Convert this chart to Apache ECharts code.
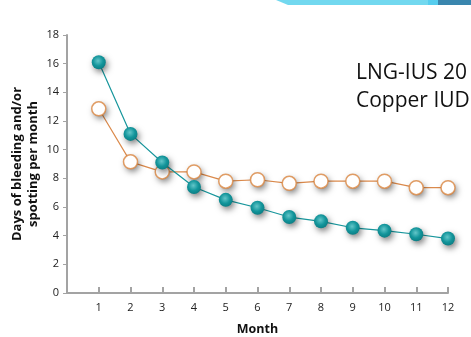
<!DOCTYPE html>
<html>
<head>
<meta charset="utf-8">
<script src="https://cdn.jsdelivr.net/npm/echarts@6/dist/echarts.min.js"></script>
<style>
html,body{margin:0;padding:0;background:#fff;}
#c{width:471px;height:337px;}
</style>
</head>
<body>
<div id="c"></div>
<script>
var months = [1,2,3,4,5,6,7,8,9,10,11,12];
var lngIus20 = [16.1,11.1,9.1,7.4,6.5,5.95,5.3,5.0,4.55,4.35,4.1,3.8];
var copperIud = [12.85,9.15,8.45,8.45,7.8,7.9,7.65,7.8,7.8,7.8,7.35,7.35];
var yTicks = [0,2,4,6,8,10,12,14,16,18];
var legendNames = ['LNG-IUS 20','Copper IUD'];

function pairs(vals){ return months.map(function(m,i){ return [m, vals[i]]; }); }

var chart = echarts.init(document.getElementById('c'), null, {renderer:'canvas'});
var ff = '"Open Sans", "Noto Sans", sans-serif';
var labelFont = {fontFamily:ff, fontSize:11, color:'#222'};
var shadow = {shadowColor:'rgba(0,0,0,0.5)', shadowBlur:6, shadowOffsetX:2, shadowOffsetY:3};
chart.setOption({
  animation:false,
  backgroundColor:'#fff',
  grid:{left:67, right:23, top:35, bottom:44, containLabel:false, outerBoundsMode:'none'},
  xAxis:{
    type:'value', min:0, max:12, interval:1,
    name:'Month', nameLocation:'middle', nameGap:30, nameMoveOverlap:false,
    nameTextStyle:{fontFamily:ff, fontSize:12.5, fontWeight:'bold', color:'#111'},
    axisLine:{lineStyle:{color:'#a3a3a3', width:2}},
    axisTick:{inside:true, length:6, lineStyle:{color:'#a3a3a3', width:2}},
    axisLabel:Object.assign({margin:9, formatter:function(v){return v===0?'':String(v);}}, labelFont),
    splitLine:{show:false}
  },
  yAxis:{
    type:'value', min:yTicks[0], max:yTicks[yTicks.length-1], interval:2,
    name:'Days of bleeding and/or\nspotting per month', nameLocation:'middle', nameGap:26, nameRotate:90, nameMoveOverlap:false,
    nameTextStyle:{fontFamily:ff, fontSize:13, fontWeight:'bold', color:'#111', lineHeight:16},
    axisLine:{show:true, lineStyle:{color:'#a3a3a3', width:2}},
    axisTick:{show:true, length:4, lineStyle:{color:'#a3a3a3', width:1}},
    axisLabel:Object.assign({margin:8}, labelFont),
    splitLine:{show:false}
  },
  graphic:[
    {type:'polygon', shape:{points:[[276,0],[471,0],[471,5],[288,5]]}, style:{fill:'#72d8ef'}},
    {type:'rect', shape:{x:428,y:0,width:10,height:5}, style:{fill:'#56cdee'}},
    {type:'rect', shape:{x:438,y:0,width:33,height:5}, style:{fill:'#3a86ae'}},
    {type:'text', left:356, top:63, style:{text:legendNames[0], fontFamily:ff, fontSize:21, fill:'#111'}},
    {type:'text', left:356, top:91, style:{text:legendNames[1], fontFamily:ff, fontSize:21, fill:'#111'}}
  ],
  series:[
    {
      name:legendNames[1], type:'line', data:pairs(copperIud), z:2,
      symbol:'circle', symbolSize:14,
      lineStyle:{color:'#db8a4c', width:1.2},
      itemStyle:Object.assign({color:'#ffffff', borderWidth:0}, shadow)
    },
    {
      name:legendNames[1] + ' markers', type:'scatter', data:pairs(copperIud), z:3,
      symbol:'circle', symbolSize:14,
      itemStyle:{color:'#ffffff', borderColor:'#d9843f', borderWidth:1.5}
    },
    {
      name:legendNames[0], type:'line', data:pairs(lngIus20), z:4,
      symbol:'circle', symbolSize:14,
      lineStyle:{color:'#17969c', width:1.2},
      itemStyle:Object.assign({
        color:{type:'radial', x:0.45, y:0.4, r:0.6, colorStops:[{offset:0,color:'#63c6c9'},{offset:0.6,color:'#13959b'},{offset:1,color:'#0b7f85'}]},
        borderWidth:0}, shadow)
    }
  ]
});
</script>
</body>
</html>
